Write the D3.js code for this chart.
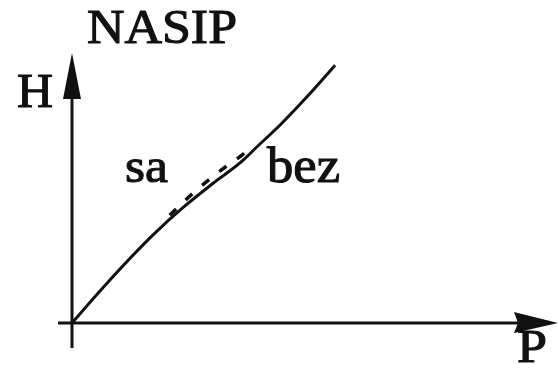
<!DOCTYPE html>
<html>
<head>
<meta charset="utf-8">
<script src="https://cdn.jsdelivr.net/npm/d3@7"></script>
<style>
  html, body { margin: 0; padding: 0; background: #fff; }
  svg { display: block; }
</style>
</head>
<body>
<svg id="chart" width="559" height="372"></svg>
<script>
// Embankment (NASIP) load curve: height H against load P
const title = "NASIP";
const axisLabels = ["P", "H"];
const seriesNames = ["sa", "bez"];

// "bez" curve: continuous line
const bezP = [0, 0.8, 1.89, 2.52, 3.2, 3.89, 4.2, 4.73, 5.34, 5.98];
const bezH = [0, 0.91, 2.05, 2.62, 3.17, 3.70, 4.0, 4.5, 5.14, 5.86];

// "sa" curve: short dashed stretch running just above it
const saP = [2.22, 2.84, 3.36, 3.89, 4.12];
const saH = [2.45, 3.03, 3.45, 3.84, 4.04];

const svg = d3.select("#chart");
const ink = "#111";
const serif = "'Liberation Serif', 'Times New Roman', serif";

const x = d3.scaleLinear().domain([0, 10]).range([72, 512]);
const y = d3.scaleLinear().domain([0, 6]).range([323, 59]);

// axes with arrow heads
const ox = x(0), oy = y(0);
svg.append("line")
  .attr("x1", ox).attr("y1", oy + 25)
  .attr("x2", ox).attr("y2", 70)
  .attr("stroke", ink).attr("stroke-width", 3);
svg.append("line")
  .attr("x1", ox - 14).attr("y1", oy)
  .attr("x2", 540).attr("y2", oy)
  .attr("stroke", ink).attr("stroke-width", 3);

svg.append("path")
  .attr("d", `M${ox},53 L${ox + 9},99 L${ox - 9},99 Z`)
  .attr("fill", ink);
svg.append("path")
  .attr("d", `M558,${oy} L514,${oy - 11} L518,${oy} L514,${oy + 10} Z`)
  .attr("fill", ink);

const line = d3.line()
  .x(d => x(d[0]))
  .y(d => y(d[1]))
  .curve(d3.curveMonotoneX);

svg.append("path")
  .datum(bezP.map((p, i) => [p, bezH[i]]))
  .attr("d", line)
  .attr("fill", "none")
  .attr("stroke", ink)
  .attr("stroke-width", 3)
  .attr("stroke-linejoin", "round");

svg.append("path")
  .datum(saP.map((p, i) => [p, saH[i]]))
  .attr("d", line)
  .attr("fill", "none")
  .attr("stroke", ink)
  .attr("stroke-width", 3.5)
  .attr("stroke-dasharray", "9,13");

// texts
function label(txt, px, py, size, len) {
  const t = svg.append("text")
    .attr("x", px).attr("y", py)
    .attr("font-family", serif)
    .attr("font-size", size)
    .attr("fill", ink)
    .attr("stroke", ink).attr("stroke-width", 1.1)
    .text(txt);
  if (len) t.attr("textLength", len).attr("lengthAdjust", "spacingAndGlyphs");
  return t;
}

label(title, 87, 43, 49, 150);
label(axisLabels[1], 17, 107, 49, 36);
label(axisLabels[0], 517, 362, 47, 30);
label(seriesNames[0], 125, 182, 49, 43);
label(seriesNames[1], 267, 182, 50, 73);
</script>
</body>
</html>
